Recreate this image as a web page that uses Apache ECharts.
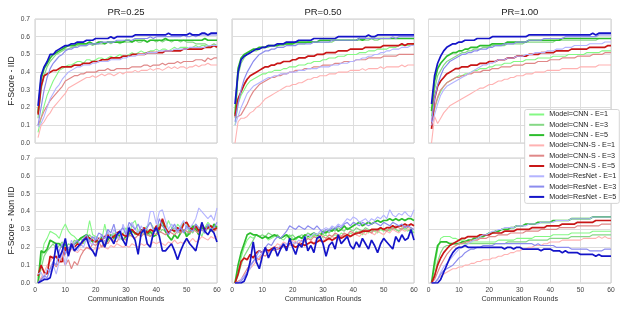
<!DOCTYPE html>
<html><head><meta charset="utf-8">
<script src="https://cdn.jsdelivr.net/npm/echarts/dist/echarts.min.js"></script>
<style>html,body{margin:0;padding:0;background:#fff}#c{width:623px;height:312px}</style>
</head><body><div id="c"></div>
<script>
// ---------- categories / labels ----------
const rounds = Array.from({length: 60}, (_, i) => i + 1);
const modelNames = ['Model=CNN - E=1','Model=CNN - E=3','Model=CNN - E=5','Model=CNN-S - E=1','Model=CNN-S - E=3','Model=CNN-S - E=5','Model=ResNet - E=1','Model=ResNet - E=3','Model=ResNet - E=5'];
const colTitles = ['PR=0.25','PR=0.50','PR=1.00'];
const rowLabels = ['F-Score - IID','F-Score - Non IID'];
const xLabel = 'Communication Rounds';

// ---------- IID, PR=0.25 ----------
const iid25_cnn1 = [.06,.14,.21,.27,.31,.35,.38,.41,.42,.43, .44,.44,.45,.46,.46,.45,.47,.47,.46,.47, .48,.48,.47,.48,.49,.48,.49,.50,.49,.49, .50,.51,.50,.51,.52,.51,.51,.52,.52,.53, .52,.53,.53,.52,.53,.54,.53,.54,.54,.54, .53,.54,.55,.54,.55,.55,.54,.55,.55,.55];
const iid25_cnn3 = [.14,.30,.38,.43,.46,.48,.50,.51,.52,.53, .53,.54,.54,.55,.55,.55,.55,.56,.55,.56, .56,.56,.56,.57,.56,.57,.57,.56,.57,.57, .57,.57,.58,.57,.57,.58,.57,.58,.58,.57, .58,.57,.58,.58,.57,.58,.58,.57,.58,.57, .57,.57,.56,.56,.56,.56,.55,.55,.56,.55];
const iid25_cnn5 = [.17,.36,.42,.45,.48,.50,.51,.52,.53,.54, .55,.55,.55,.56,.56,.56,.56,.57,.56,.56, .57,.57,.56,.57,.57,.57,.57,.57,.57,.58, .58,.57,.58,.58,.58,.58,.57,.58,.58,.58, .58,.58,.59,.58,.58,.58,.58,.58,.58,.58, .58,.58,.58,.58,.58,.59,.58,.58,.58,.58];
const iid25_cnns1 = [.03,.10,.12,.15,.17,.20,.22,.24,.26,.28, .31,.32,.33,.34,.35,.36,.37,.37,.38,.37, .38,.39,.38,.39,.39,.38,.39,.40,.39,.40, .40,.40,.41,.40,.41,.41,.41,.42,.41,.42, .42,.41,.42,.43,.42,.43,.42,.43,.43,.42, .43,.43,.44,.43,.44,.44,.45,.44,.44,.44];
const iid25_cnns3 = [.10,.14,.18,.21,.24,.26,.28,.30,.32,.35, .36,.37,.38,.38,.39,.39,.40,.40,.40,.40, .41,.41,.41,.42,.41,.41,.42,.42,.42,.42, .42,.43,.43,.43,.43,.44,.44,.43,.44,.44, .44,.45,.44,.45,.45,.45,.46,.45,.46,.46, .46,.46,.47,.47,.47,.46,.48,.47,.48,.48];
const iid25_cnns5 = [.16,.32,.38,.39,.40,.41,.41,.42,.43,.43, .43,.43,.44,.44,.44,.45,.45,.45,.46,.46, .46,.47,.47,.47,.48,.48,.48,.48,.49,.49, .49,.50,.50,.50,.50,.50,.51,.51,.51,.51, .51,.51,.52,.52,.52,.52,.52,.52,.53,.53, .53,.53,.53,.53,.53,.54,.54,.54,.55,.54];
const iid25_res1 = [.09,.11,.15,.20,.25,.28,.31,.33,.36,.38, .40,.41,.42,.43,.43,.44,.44,.44,.45,.45, .46,.46,.46,.46,.47,.47,.47,.47,.48,.48, .49,.49,.49,.50,.50,.50,.51,.51,.51,.51, .52,.52,.52,.52,.52,.53,.53,.53,.53,.53, .54,.54,.54,.54,.54,.54,.55,.55,.55,.55];
const iid25_res3 = [.10,.20,.30,.37,.42,.45,.47,.49,.50,.52, .53,.53,.54,.54,.55,.55,.55,.56,.56,.56, .56,.57,.57,.57,.57,.57,.58,.58,.58,.58, .58,.58,.59,.59,.59,.59,.59,.60,.59,.60, .60,.60,.60,.60,.60,.60,.60,.60,.61,.60, .60,.61,.60,.61,.61,.61,.61,.61,.61,.61];
const iid25_res5 = [.21,.38,.43,.46,.50,.50,.52,.53,.54,.55, .55,.56,.56,.57,.57,.57,.58,.58,.58,.59, .59,.59,.59,.59,.60,.59,.60,.60,.60,.60, .60,.60,.61,.61,.61,.61,.61,.61,.61,.61, .61,.61,.61,.62,.61,.61,.61,.61,.61,.61, .62,.61,.61,.61,.62,.62,.61,.62,.62,.62];

// ---------- IID, PR=0.50 ----------
const iid50_cnn1 = [.10,.22,.27,.30,.33,.35,.36,.37,.38,.39, .39,.40,.40,.41,.41,.41,.42,.42,.43,.43, .43,.44,.44,.44,.45,.45,.46,.46,.46,.47, .47,.48,.48,.48,.49,.49,.49,.50,.50,.50, .50,.51,.51,.51,.52,.52,.52,.53,.53,.53, .53,.54,.54,.54,.55,.55,.55,.55,.55,.56];
const iid50_cnn3 = [.14,.38,.45,.48,.50,.51,.52,.52,.53,.54, .54,.54,.55,.55,.55,.55,.55,.56,.56,.56, .56,.56,.56,.56,.57,.57,.57,.57,.57,.57, .57,.57,.57,.58,.58,.58,.58,.58,.58,.58, .58,.58,.58,.58,.58,.59,.58,.58,.59,.59, .59,.59,.59,.59,.59,.59,.59,.59,.59,.59];
const iid50_cnn5 = [.16,.42,.48,.50,.51,.52,.53,.53,.54,.54, .54,.55,.55,.55,.55,.56,.56,.56,.56,.56, .57,.57,.57,.57,.57,.57,.57,.57,.58,.58, .58,.58,.58,.58,.58,.58,.58,.58,.58,.58, .58,.59,.58,.59,.59,.59,.59,.59,.59,.59, .59,.59,.59,.59,.59,.59,.59,.59,.59,.59];
const iid50_cnns1 = [.00,.12,.14,.14,.15,.17,.18,.20,.21,.23, .25,.26,.27,.28,.29,.30,.31,.32,.32,.33, .33,.34,.34,.35,.36,.36,.37,.37,.38,.38, .38,.39,.39,.39,.40,.40,.40,.40,.41,.41, .41,.41,.42,.41,.42,.42,.42,.42,.43,.42, .43,.43,.43,.43,.43,.44,.43,.44,.44,.44];
const iid50_cnns3 = [.14,.15,.16,.19,.22,.26,.29,.31,.33,.34, .35,.36,.37,.37,.38,.38,.39,.39,.40,.40, .41,.41,.41,.42,.42,.42,.43,.43,.43,.44, .44,.44,.44,.45,.45,.45,.46,.46,.46,.46, .47,.47,.47,.47,.48,.48,.48,.48,.48,.49, .49,.49,.49,.49,.50,.50,.50,.50,.50,.50];
const iid50_cnns5 = [.15,.25,.29,.33,.36,.38,.39,.40,.41,.42, .43,.43,.44,.44,.45,.45,.46,.46,.46,.47, .47,.48,.48,.48,.49,.49,.49,.50,.50,.50, .51,.51,.51,.51,.52,.52,.52,.52,.53,.53, .53,.53,.53,.54,.54,.54,.54,.54,.54,.55, .55,.55,.55,.55,.55,.56,.55,.56,.56,.56];
const iid50_res1 = [.10,.15,.20,.24,.28,.30,.32,.33,.34,.35, .36,.37,.37,.38,.38,.39,.39,.39,.40,.40, .40,.41,.41,.41,.42,.42,.42,.42,.43,.43, .43,.43,.44,.44,.44,.45,.45,.45,.46,.46, .47,.47,.48,.48,.49,.49,.50,.50,.51,.51, .52,.52,.53,.53,.53,.54,.54,.54,.55,.55];
const iid50_res3 = [.12,.22,.30,.36,.40,.43,.46,.48,.50,.51, .52,.52,.53,.53,.54,.54,.54,.55,.55,.55, .55,.56,.56,.56,.56,.56,.57,.57,.57,.57, .57,.57,.58,.58,.58,.58,.58,.58,.58,.58, .58,.59,.59,.59,.59,.59,.59,.59,.59,.59, .59,.59,.60,.59,.60,.60,.60,.60,.60,.60];
const iid50_res5 = [.22,.40,.47,.49,.50,.51,.52,.53,.53,.54, .54,.55,.55,.55,.56,.56,.56,.57,.57,.57, .57,.58,.58,.58,.58,.58,.59,.59,.59,.59, .59,.59,.59,.59,.60,.60,.60,.60,.60,.60, .60,.60,.60,.60,.61,.60,.60,.61,.61,.61, .61,.61,.61,.61,.61,.61,.61,.61,.61,.61];

// ---------- IID, PR=1.00 ----------
const iid100_cnn1 = [.10,.19,.25,.29,.32,.34,.35,.36,.37,.38, .38,.39,.39,.40,.41,.41,.42,.42,.42,.43, .43,.44,.44,.44,.45,.45,.45,.46,.46,.46, .46,.47,.47,.47,.47,.48,.48,.48,.48,.48, .49,.49,.49,.49,.49,.50,.50,.50,.50,.50, .50,.51,.51,.51,.51,.51,.52,.52,.52,.52];
const iid100_cnn3 = [.15,.30,.38,.41,.44,.46,.47,.48,.49,.50, .51,.51,.52,.52,.53,.53,.53,.54,.54,.54, .55,.55,.55,.55,.55,.56,.56,.56,.56,.56, .56,.57,.57,.57,.57,.57,.57,.57,.57,.57, .57,.58,.58,.58,.58,.58,.58,.58,.58,.58, .58,.58,.58,.58,.58,.59,.59,.59,.59,.59];
const iid100_cnn5 = [.18,.35,.42,.45,.47,.49,.50,.51,.51,.52, .52,.53,.53,.54,.54,.54,.55,.55,.55,.55, .56,.56,.56,.56,.56,.57,.57,.57,.57,.57, .57,.57,.58,.58,.58,.58,.58,.58,.58,.58, .58,.58,.58,.59,.59,.59,.59,.59,.59,.59, .59,.59,.59,.59,.59,.59,.59,.59,.59,.59];
const iid100_cnns1 = [.00,.15,.11,.14,.17,.19,.21,.22,.23,.24, .25,.26,.27,.28,.29,.30,.31,.31,.32,.33, .33,.34,.35,.35,.36,.36,.37,.37,.38,.38, .38,.39,.39,.39,.40,.40,.40,.40,.41,.41, .41,.41,.41,.42,.42,.42,.42,.42,.42,.43, .43,.43,.43,.43,.43,.44,.44,.44,.44,.44];
const iid100_cnns3 = [.10,.20,.26,.30,.32,.34,.35,.36,.37,.37, .38,.38,.39,.39,.40,.40,.40,.41,.41,.41, .42,.42,.42,.43,.43,.43,.43,.44,.44,.44, .44,.45,.45,.45,.45,.46,.46,.46,.46,.47, .47,.47,.47,.48,.48,.48,.48,.48,.49,.49, .49,.49,.49,.50,.50,.50,.50,.51,.51,.51];
const iid100_cnns5 = [.08,.25,.32,.35,.37,.39,.40,.41,.42,.42, .43,.43,.43,.44,.44,.44,.45,.45,.45,.46, .46,.46,.47,.47,.47,.48,.48,.48,.49,.49, .49,.49,.50,.50,.50,.50,.51,.51,.51,.51, .51,.52,.52,.52,.52,.52,.53,.53,.53,.53, .53,.53,.54,.54,.54,.54,.54,.54,.55,.55];
const iid100_res1 = [.10,.16,.22,.27,.30,.32,.33,.34,.35,.36, .37,.38,.39,.40,.41,.42,.43,.44,.44,.45, .45,.46,.47,.47,.47,.48,.48,.48,.49,.49, .49,.50,.50,.50,.51,.51,.51,.51,.52,.52, .52,.53,.53,.53,.54,.54,.54,.55,.55,.55, .55,.55,.56,.56,.56,.56,.56,.57,.57,.57];
const iid100_res3 = [.12,.25,.33,.38,.42,.44,.46,.47,.48,.49, .50,.50,.51,.51,.52,.52,.53,.53,.53,.54, .54,.55,.55,.55,.56,.56,.56,.56,.57,.57, .57,.57,.58,.58,.58,.58,.58,.59,.59,.59, .59,.59,.59,.59,.60,.60,.60,.60,.60,.60, .60,.60,.60,.60,.60,.61,.61,.61,.61,.61];
const iid100_res5 = [.22,.38,.45,.49,.52,.54,.55,.56,.56,.57, .57,.58,.58,.58,.58,.59,.59,.59,.59,.59, .60,.60,.60,.60,.60,.60,.60,.60,.60,.60, .60,.60,.61,.61,.61,.61,.61,.61,.61,.61, .61,.61,.61,.61,.61,.61,.61,.61,.61,.61, .61,.61,.61,.62,.61,.62,.62,.62,.62,.62];

// ---------- Non IID, PR=0.25 ----------
const non25_cnn1 = [.03,.12,.22,.25,.29,.28,.27,.25,.30,.33, .29,.27,.26,.24,.25,.22,.26,.35,.27,.26, .25,.24,.33,.25,.26,.28,.27,.29,.27,.31, .26,.33,.35,.29,.28,.30,.32,.34,.31,.29, .33,.32,.30,.35,.31,.28,.33,.31,.34,.33, .27,.31,.33,.30,.26,.31,.34,.32,.30,.32];
const non25_cnn3 = [.00,.08,.15,.18,.20,.22,.19,.21,.23,.19, .22,.21,.24,.23,.25,.24,.26,.27,.25,.26, .23,.27,.25,.28,.26,.27,.25,.28,.27,.26, .28,.30,.27,.29,.28,.27,.30,.26,.29,.31, .28,.30,.29,.27,.30,.31,.28,.30,.29,.27, .30,.28,.31,.29,.30,.28,.31,.30,.29,.31];
const non25_cnn5 = [.00,.18,.17,.19,.24,.23,.22,.22,.20,.22, .18,.20,.22,.23,.25,.26,.27,.25,.23,.24, .22,.26,.21,.24,.27,.25,.28,.26,.24,.26, .27,.29,.28,.27,.30,.28,.27,.29,.26,.27, .30,.35,.29,.26,.24,.27,.25,.28,.30,.26, .28,.32,.30,.27,.31,.30,.32,.29,.33,.31];
const non25_cnns1 = [.00,.03,.06,.10,.12,.15,.14,.12,.16,.18, .16,.19,.18,.17,.19,.18,.20,.19,.18,.20, .19,.21,.20,.19,.21,.20,.22,.21,.20,.21, .20,.22,.21,.20,.22,.21,.22,.21,.23,.22, .23,.22,.21,.23,.22,.24,.22,.23,.22,.24, .23,.25,.23,.24,.26,.25,.24,.26,.25,.26];
const non25_cnns3 = [.00,.02,.04,.06,.08,.11,.09,.12,.14,.10, .13,.08,.12,.10,.15,.18,.20,.19,.22,.21, .23,.20,.24,.22,.25,.24,.23,.26,.25,.24, .27,.26,.25,.27,.26,.28,.27,.26,.28,.27, .29,.28,.27,.29,.28,.27,.29,.28,.30,.29, .28,.30,.29,.28,.30,.29,.31,.30,.29,.30];
const non25_cnns5 = [.04,.10,.06,.05,.15,.14,.15,.12,.12,.20, .16,.22,.20,.22,.21,.24,.26,.25,.24,.23, .25,.24,.26,.27,.25,.26,.28,.29,.27,.26, .29,.30,.28,.27,.29,.31,.28,.30,.29,.32, .30,.36,.31,.28,.30,.29,.31,.29,.33,.34, .31,.30,.32,.29,.33,.30,.31,.32,.30,.31];
const non25_res1 = [.05,.06,.02,.08,.06,.10,.05,.12,.18,.10, .17,.24,.20,.18,.22,.20,.25,.23,.21,.26, .24,.27,.22,.29,.25,.30,.27,.24,.33,.28, .31,.34,.30,.28,.32,.29,.31,.40,.40,.33, .40,.41,.35,.30,.33,.31,.28,.32,.35,.30, .31,.33,.36,.42,.40,.38,.36,.38,.35,.42];
const non25_res3 = [.00,.02,.04,.03,.08,.12,.10,.18,.22,.16, .20,.19,.22,.24,.21,.25,.27,.23,.26,.24, .28,.27,.25,.30,.28,.33,.26,.29,.31,.27, .34,.32,.30,.33,.29,.28,.31,.34,.30,.29, .36,.32,.30,.27,.30,.33,.29,.31,.28,.32, .30,.29,.33,.31,.30,.28,.33,.30,.31,.34];
const non25_res5 = [.00,.01,.02,.02,.03,.10,.22,.14,.18,.25, .15,.22,.18,.20,.22,.24,.25,.20,.18,.15, .23,.24,.20,.26,.25,.22,.27,.29,.24,.21, .31,.27,.24,.16,.28,.30,.22,.20,.28,.31, .26,.18,.18,.20,.22,.18,.13,.18,.22,.25, .22,.20,.18,.25,.34,.29,.27,.30,.28,.23];

// ---------- Non IID, PR=0.50 ----------
const non50_cnn1 = [.00,.06,.14,.20,.24,.26,.25,.27,.26,.25, .26,.24,.25,.26,.27,.25,.24,.26,.27,.25, .24,.26,.25,.24,.26,.25,.27,.26,.24,.26, .27,.25,.26,.27,.26,.28,.27,.26,.28,.27, .29,.28,.27,.29,.28,.30,.29,.28,.30,.29, .30,.29,.31,.30,.29,.31,.30,.29,.31,.28];
const non50_cnn3 = [.00,.04,.10,.15,.18,.21,.24,.27,.26,.27, .26,.28,.27,.26,.27,.25,.26,.27,.26,.27, .25,.26,.27,.26,.28,.27,.26,.27,.28,.27, .29,.28,.30,.29,.31,.30,.29,.31,.30,.29, .31,.30,.29,.31,.30,.29,.30,.29,.31,.30, .29,.30,.31,.30,.29,.30,.31,.30,.29,.28];
const non50_cnn5 = [.00,.10,.17,.22,.27,.28,.27,.27,.26,.25, .26,.25,.26,.27,.26,.25,.26,.27,.25,.24, .25,.26,.25,.27,.26,.27,.28,.27,.26,.29, .28,.30,.29,.31,.29,.30,.32,.30,.31,.32, .33,.34,.32,.33,.34,.33,.34,.35,.34,.35, .35,.36,.35,.36,.35,.36,.35,.36,.36,.35];
const non50_cnns1 = [.00,.00,.02,.04,.06,.08,.10,.12,.14,.16, .18,.17,.19,.20,.22,.21,.23,.22,.21,.24, .23,.22,.24,.23,.25,.24,.22,.25,.24,.23, .25,.24,.26,.25,.24,.26,.27,.25,.26,.28, .27,.26,.28,.27,.29,.28,.27,.29,.28,.27, .29,.28,.30,.29,.28,.30,.29,.30,.31,.30];
const non50_cnns3 = [.00,.01,.02,.05,.08,.10,.12,.14,.13,.16, .15,.17,.19,.18,.20,.19,.21,.20,.22,.21, .23,.22,.24,.23,.25,.24,.26,.25,.27,.26, .25,.27,.26,.28,.27,.26,.28,.27,.29,.28, .27,.29,.28,.30,.29,.28,.30,.29,.31,.30, .29,.31,.30,.32,.31,.30,.32,.31,.33,.32];
const non50_cnns5 = [.00,.05,.12,.14,.13,.16,.14,.17,.18,.17, .19,.18,.19,.20,.19,.20,.21,.20,.22,.21, .20,.21,.22,.21,.22,.23,.22,.23,.24,.23, .24,.25,.24,.25,.26,.25,.26,.27,.26,.27, .28,.28,.29,.29,.29,.30,.30,.30,.31,.30, .31,.31,.32,.31,.32,.32,.33,.32,.33,.32];
const non50_res1 = [.00,.00,.02,.04,.06,.08,.12,.14,.15,.17, .18,.16,.18,.20,.19,.21,.20,.22,.21,.23, .22,.24,.23,.25,.27,.26,.28,.27,.29,.30, .31,.30,.32,.31,.33,.32,.34,.36,.35,.37, .36,.34,.35,.36,.34,.36,.35,.37,.36,.38, .36,.41,.38,.37,.39,.38,.40,.38,.37,.41];
const non50_res3 = [.00,.00,.01,.03,.06,.10,.12,.15,.18,.17, .20,.22,.21,.24,.26,.25,.27,.29,.32,.31, .30,.32,.31,.30,.32,.31,.30,.32,.30,.28, .30,.29,.31,.30,.32,.31,.33,.34,.32,.34, .33,.32,.34,.33,.32,.33,.34,.33,.32,.34, .33,.32,.34,.33,.32,.33,.31,.32,.31,.30];
const non50_res5 = [.00,.00,.00,.01,.05,.12,.23,.12,.08,.15, .20,.14,.18,.20,.15,.19,.22,.18,.25,.20, .16,.22,.20,.26,.18,.21,.17,.25,.26,.22, .15,.21,.23,.19,.27,.22,.24,.26,.21,.19, .23,.20,.25,.22,.19,.24,.21,.17,.22,.25, .23,.21,.19,.26,.23,.27,.24,.25,.30,.24];

// ---------- Non IID, PR=1.00 ----------
const non100_cnn1 = [.00,.08,.19,.25,.26,.26,.26,.25,.25,.24, .24,.24,.23,.23,.23,.23,.23,.23,.23,.23, .23,.23,.24,.24,.24,.24,.24,.24,.25,.25, .25,.25,.25,.25,.26,.26,.26,.26,.26,.26, .27,.27,.27,.27,.27,.27,.28,.28,.28,.28, .28,.28,.28,.29,.29,.29,.29,.29,.29,.29];
const non100_cnn3 = [.00,.04,.12,.17,.20,.21,.21,.22,.22,.22, .22,.22,.22,.22,.22,.22,.22,.22,.22,.22, .22,.22,.22,.22,.22,.23,.23,.23,.23,.23, .23,.23,.24,.24,.24,.24,.24,.24,.24,.25, .25,.25,.25,.25,.25,.25,.26,.26,.26,.26, .26,.26,.26,.27,.27,.27,.27,.27,.27,.27];
const non100_cnn5 = [.00,.12,.21,.23,.23,.23,.22,.22,.22,.22, .23,.23,.24,.24,.25,.25,.26,.26,.27,.28, .28,.29,.29,.30,.30,.30,.31,.31,.32,.32, .32,.33,.33,.33,.33,.34,.34,.34,.34,.34, .35,.35,.35,.35,.35,.35,.36,.36,.36,.36, .36,.36,.36,.37,.37,.37,.37,.37,.37,.37];
const non100_cnns1 = [.00,.00,.02,.04,.05,.06,.07,.08,.08,.09, .09,.10,.10,.11,.11,.12,.12,.13,.13,.13, .14,.14,.15,.15,.16,.16,.17,.17,.18,.18, .19,.19,.20,.20,.21,.21,.21,.22,.22,.23, .23,.23,.23,.24,.24,.24,.24,.24,.24,.24, .25,.25,.25,.25,.25,.26,.25,.26,.25,.25];
const non100_cnns3 = [.00,.02,.06,.10,.13,.16,.18,.20,.21,.22, .22,.23,.23,.24,.24,.24,.25,.25,.25,.26, .26,.26,.27,.27,.27,.27,.28,.28,.28,.28, .28,.29,.29,.29,.29,.29,.30,.30,.30,.30, .30,.30,.31,.31,.31,.31,.31,.31,.32,.32, .32,.32,.32,.32,.32,.32,.33,.33,.33,.33];
const non100_cnns5 = [.00,.04,.10,.14,.17,.19,.21,.22,.23,.24, .25,.25,.26,.26,.26,.26,.27,.27,.27,.27, .28,.28,.28,.28,.29,.29,.29,.29,.30,.30, .30,.30,.30,.31,.31,.31,.31,.31,.32,.32, .32,.32,.32,.33,.33,.33,.33,.33,.34,.34, .34,.34,.34,.34,.35,.35,.35,.35,.35,.35];
const non100_res1 = [.00,.00,.02,.06,.09,.11,.13,.15,.17,.19, .20,.21,.22,.23,.24,.25,.26,.27,.27,.28, .29,.29,.30,.30,.31,.31,.31,.31,.32,.32, .32,.32,.33,.33,.33,.33,.34,.34,.34,.34, .34,.35,.35,.35,.35,.35,.36,.36,.36,.36, .36,.36,.36,.37,.37,.37,.37,.37,.37,.37];
const non100_res3 = [.00,.00,.02,.05,.07,.08,.09,.10,.12,.14, .15,.17,.18,.19,.19,.20,.20,.21,.21,.21, .21,.22,.22,.22,.22,.22,.22,.22,.22,.22, .22,.22,.22,.22,.21,.22,.21,.21,.21,.21, .21,.20,.20,.20,.20,.20,.19,.19,.19,.19, .19,.19,.18,.18,.18,.18,.18,.19,.19,.19];
const non100_res5 = [.00,.00,.00,.02,.06,.10,.14,.17,.19,.20, .20,.21,.20,.20,.20,.20,.20,.20,.20,.20, .20,.20,.20,.20,.19,.20,.20,.19,.20,.20, .19,.19,.19,.19,.19,.19,.18,.19,.19,.19, .18,.18,.18,.17,.18,.17,.17,.17,.17,.16, .16,.16,.16,.16,.15,.16,.15,.15,.15,.15];

// ---------- panel assembly ----------
const panels = [
  {row:0, col:0, lines:[iid25_cnn1,iid25_cnn3,iid25_cnn5,iid25_cnns1,iid25_cnns3,iid25_cnns5,iid25_res1,iid25_res3,iid25_res5]},
  {row:0, col:1, lines:[iid50_cnn1,iid50_cnn3,iid50_cnn5,iid50_cnns1,iid50_cnns3,iid50_cnns5,iid50_res1,iid50_res3,iid50_res5]},
  {row:0, col:2, lines:[iid100_cnn1,iid100_cnn3,iid100_cnn5,iid100_cnns1,iid100_cnns3,iid100_cnns5,iid100_res1,iid100_res3,iid100_res5]},
  {row:1, col:0, lines:[non25_cnn1,non25_cnn3,non25_cnn5,non25_cnns1,non25_cnns3,non25_cnns5,non25_res1,non25_res3,non25_res5]},
  {row:1, col:1, lines:[non50_cnn1,non50_cnn3,non50_cnn5,non50_cnns1,non50_cnns3,non50_cnns5,non50_res1,non50_res3,non50_res5]},
  {row:1, col:2, lines:[non100_cnn1,non100_cnn3,non100_cnn5,non100_cnns1,non100_cnns3,non100_cnns5,non100_res1,non100_res3,non100_res5]}
];

// ---------- styles / layout ----------
const colors = ['#84f884','#86d886','#2dbd2d','#ffb2b2','#e08888','#c81616','#b4b4ff','#8c8cee','#1414c8'];
const widths = [1.1,1.2,1.7,1.1,1.2,1.7,1.1,1.2,1.7];
const colLeft = [35, 232, 428.5];
const colWidth = [182, 182, 182.5];
const rowTop = [19, 158];
const rowHeight = [124, 125];
const FONT = '"Liberation Sans", Arial, sans-serif';

const grids = [], xAxes = [], yAxes = [], series = [];
panels.forEach((p, k) => {
  grids.push({left: colLeft[p.col], top: rowTop[p.row], width: colWidth[p.col], height: rowHeight[p.row],
    show: true, borderColor: '#cccccc', borderWidth: 1, backgroundColor: '#ffffff', containLabel: false, outerBoundsMode: 'none'});
  xAxes.push({gridIndex: k, type: 'value', min: 0, max: 60, interval: 10,
    axisLine: {show: false}, axisTick: {show: false},
    splitLine: {show: true, lineStyle: {color: '#dddddd', width: 1}},
    axisLabel: {show: p.row === 1, fontSize: 6.7, color: '#444', margin: 4, fontFamily: FONT},
    name: p.row === 1 ? xLabel : '', nameLocation: 'middle', nameGap: 13,
    nameTextStyle: {fontSize: 7.2, color: '#333', fontFamily: FONT}});
  yAxes.push({gridIndex: k, type: 'value', min: 0, max: 0.7, interval: 0.1,
    axisLine: {show: false}, axisTick: {show: false},
    splitLine: {show: true, lineStyle: {color: '#dddddd', width: 1}},
    axisLabel: {show: p.col === 0, fontSize: 6.7, color: '#444', margin: 5, fontFamily: FONT,
      formatter: v => v.toFixed(1)},
    name: p.col === 0 ? rowLabels[p.row] : '', nameLocation: 'middle', nameGap: 19,
    nameTextStyle: {fontSize: 8.7, color: '#222', fontFamily: FONT}});
  p.lines.forEach((vals, m) => {
    series.push({type: 'line', name: modelNames[m], xAxisIndex: k, yAxisIndex: k,
      data: rounds.map((r, i) => [r, vals[i]]),
      symbol: 'none', showSymbol: false, color: colors[m],
      lineStyle: {color: colors[m], width: widths[m]}, itemStyle: {color: colors[m], opacity: 0},
      silent: true, animation: false, emphasis: {disabled: true}});
  });
});

const titles = colTitles.map((t, c) => ({text: t, left: colLeft[c] + colWidth[c] / 2, top: 7.5, textAlign: 'center', padding: 0,
  textStyle: {fontSize: 9.5, fontWeight: 'normal', color: '#222', fontFamily: FONT}}));

const chart = echarts.init(document.getElementById('c'), null, {renderer: 'canvas', width: 623, height: 312});
chart.setOption({
  animation: false,
  backgroundColor: '#ffffff',
  title: titles,
  grid: grids, xAxis: xAxes, yAxis: yAxes, series: series,
  legend: {data: modelNames, orient: 'vertical', right: 3.7, top: 109.5, z: 20,
    itemWidth: 15, itemHeight: 7, itemGap: 3.3, padding: [1.5, 3, 3, 3.5],
    backgroundColor: '#ffffff', borderColor: '#cccccc', borderWidth: 0.8, borderRadius: 2,
    selectedMode: false, itemStyle: {opacity: 0},
    textStyle: {fontSize: 7.2, color: '#222', lineHeight: 7, fontFamily: FONT}}
});
</script></body></html>
